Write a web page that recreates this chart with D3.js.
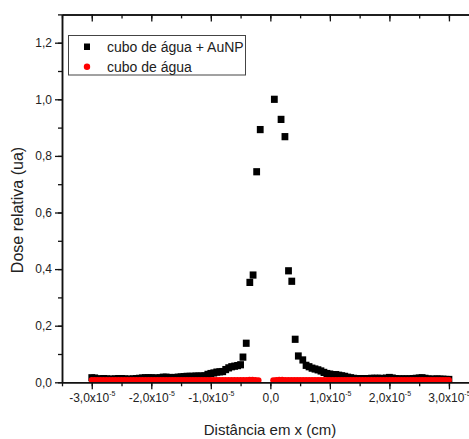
<!DOCTYPE html>
<html>
<head>
<meta charset="utf-8">
<script src="https://cdn.jsdelivr.net/npm/d3@7"></script>
<style>
  body { margin: 0; background: #fff; }
  text { font-family: "Liberation Sans", Arial, sans-serif; fill: #222; }
</style>
</head>
<body>
<div id="chart"></div>
<script>
// x in units of 1e-5 cm, y = relative dose
const seriesNames = ["cubo de água + AuNP", "cubo de água"];

const auX = [-3.00, -2.95, -2.90, -2.85, -2.80, -2.75, -2.70, -2.65, -2.60, -2.55, -2.50, -2.45, -2.40, -2.35, -2.30, -2.25,
  -2.20, -2.15, -2.10, -2.05, -2.00, -1.95, -1.90, -1.85, -1.80, -1.75, -1.70, -1.65, -1.60, -1.55, -1.50, -1.45,
  -1.40, -1.35, -1.30, -1.25, -1.20, -1.15, -1.10, -1.05, -1.00, -0.95, -0.90, -0.85, -0.80, -0.75, -0.70, -0.65,
  -0.60, -0.55, -0.50,
  -0.46, -0.405, -0.345, -0.29, -0.23, -0.17, 0.067, 0.18, 0.245, 0.305, 0.36, 0.417, 0.47, 0.545,
  0.60, 0.65, 0.70, 0.75, 0.80, 0.85, 0.90, 0.95, 1.00, 1.05, 1.10, 1.15, 1.20, 1.25, 1.30, 1.35,
  1.40, 1.45, 1.50, 1.55, 1.60, 1.65, 1.70, 1.75, 1.80, 1.85, 1.90, 1.95, 2.00, 2.05, 2.10, 2.15,
  2.20, 2.25, 2.30, 2.35, 2.40, 2.45, 2.50, 2.55, 2.60, 2.65, 2.70, 2.75, 2.80, 2.85, 2.90, 2.95, 3.00];
const auY = [0.016, 0.015, 0.012, 0.012, 0.013, 0.012, 0.011, 0.011, 0.012, 0.013, 0.013, 0.012, 0.011, 0.011, 0.012, 0.013,
  0.014, 0.015, 0.016, 0.016, 0.016, 0.015, 0.015, 0.016, 0.018, 0.018, 0.017, 0.016, 0.017, 0.018, 0.019, 0.020,
  0.021, 0.021, 0.021, 0.022, 0.022, 0.022, 0.023, 0.028, 0.031, 0.033, 0.036, 0.037, 0.038, 0.045, 0.051, 0.055,
  0.057, 0.059, 0.062,
  0.089, 0.138, 0.353, 0.379, 0.744, 0.893, 1.0, 0.929, 0.868, 0.394, 0.357, 0.152, 0.093, 0.079,
  0.060, 0.055, 0.050, 0.047, 0.044, 0.040, 0.035, 0.031, 0.029, 0.027, 0.027, 0.025, 0.023, 0.021, 0.018, 0.016,
  0.014, 0.013, 0.013, 0.013, 0.013, 0.013, 0.014, 0.014, 0.014, 0.014, 0.013, 0.015, 0.017, 0.015, 0.013, 0.012,
  0.012, 0.012, 0.012, 0.012, 0.013, 0.014, 0.015, 0.016, 0.014, 0.012, 0.011, 0.011, 0.012, 0.011, 0.011, 0.010, 0.010];

const waterX = [-3.00, -2.95, -2.90, -2.85, -2.80, -2.75, -2.70, -2.65, -2.60, -2.55, -2.50, -2.45, -2.40, -2.35, -2.30, -2.25,
  -2.20, -2.15, -2.10, -2.05, -2.00, -1.95, -1.90, -1.85, -1.80, -1.75, -1.70, -1.65, -1.60, -1.55, -1.50, -1.45,
  -1.40, -1.35, -1.30, -1.25, -1.20, -1.15, -1.10, -1.05, -1.00, -0.95, -0.90, -0.85, -0.80, -0.75, -0.70, -0.65,
  -0.60, -0.55, -0.50, -0.45, -0.40, -0.35, -0.30, -0.25, -0.20,
  0.05, 0.10, 0.15, 0.20, 0.25, 0.30, 0.35, 0.40, 0.45, 0.50, 0.55, 0.60, 0.65, 0.70, 0.75, 0.80,
  0.85, 0.90, 0.95, 1.00, 1.05, 1.10, 1.15, 1.20, 1.25, 1.30, 1.35, 1.40, 1.45, 1.50, 1.55, 1.60,
  1.65, 1.70, 1.75, 1.80, 1.85, 1.90, 1.95, 2.00, 2.05, 2.10, 2.15, 2.20, 2.25, 2.30, 2.35, 2.40,
  2.45, 2.50, 2.55, 2.60, 2.65, 2.70, 2.75, 2.80, 2.85, 2.90, 2.95, 3.00];
const waterY = [0.008, 0.008, 0.008, 0.008, 0.008, 0.008, 0.008, 0.008, 0.008, 0.008, 0.008, 0.008, 0.008, 0.008, 0.008, 0.008,
  0.008, 0.008, 0.008, 0.008, 0.008, 0.008, 0.008, 0.008, 0.008, 0.008, 0.008, 0.008, 0.008, 0.008, 0.008, 0.008,
  0.008, 0.008, 0.008, 0.008, 0.008, 0.008, 0.008, 0.008, 0.008, 0.008, 0.008, 0.008, 0.008, 0.008, 0.008, 0.008,
  0.008, 0.008, 0.008, 0.008, 0.008, 0.009, 0.009, 0.008, 0.007,
  0.007, 0.008, 0.009, 0.009, 0.008, 0.008, 0.008, 0.008, 0.008, 0.008, 0.008, 0.008, 0.008, 0.008, 0.008, 0.008,
  0.008, 0.008, 0.008, 0.008, 0.008, 0.008, 0.008, 0.008, 0.008, 0.008, 0.008, 0.008, 0.008, 0.008, 0.008, 0.008,
  0.008, 0.008, 0.008, 0.008, 0.008, 0.008, 0.008, 0.008, 0.008, 0.008, 0.008, 0.008, 0.008, 0.008, 0.008, 0.008,
  0.008, 0.008, 0.008, 0.008, 0.008, 0.008, 0.008, 0.008, 0.008, 0.008, 0.008, 0.008];

const xTicks = [-3, -2, -1, 0, 1, 2, 3];
const yTicks = [0, 0.2, 0.4, 0.6, 0.8, 1.0, 1.2];

const width = 469;
const height = 439;
const plot = {left: 62, right: 478.7, top: 14.4, bottom: 382.3};

const svg = d3.select("#chart").append("svg")
  .attr("width", width)
  .attr("height", height);

const x = d3.scaleLinear().domain([-3.5, 3.5]).range([plot.left, plot.right]);
const y = d3.scaleLinear().domain([0, 1.3]).range([plot.bottom, plot.top]);

svg.append("clipPath").attr("id", "clip")
  .append("rect")
  .attr("x", plot.left).attr("y", plot.top)
  .attr("width", plot.right - plot.left).attr("height", plot.bottom - plot.top);

const pts = svg.append("g").attr("clip-path", "url(#clip)");

const auData = auX.map((d, i) => ({x: d, y: auY[i]}));
const waterData = waterX.map((d, i) => ({x: d, y: waterY[i]}));

pts.selectAll("rect.au")
  .data(auData)
  .enter()
  .append("rect")
  .attr("class", "au")
  .attr("x", d => x(d.x) - 3.4)
  .attr("y", d => y(d.y) - 3.6)
  .attr("width", 6.8)
  .attr("height", 7.2)
  .attr("fill", "#000");

pts.selectAll("circle.water")
  .data(waterData)
  .enter()
  .append("circle")
  .attr("class", "water")
  .attr("cx", d => x(d.x))
  .attr("cy", d => y(d.y))
  .attr("r", 3.1)
  .attr("fill", "#f00");

// axes
function styleAxis(g) {
  g.select(".domain").attr("stroke", "#111").attr("stroke-width", 1.5);
  g.selectAll(".tick line").attr("stroke", "#111").attr("stroke-width", 1.3);
  g.selectAll("text").attr("font-size", 12).attr("fill", "#222")
    .attr("font-family", "'Liberation Sans', Arial, sans-serif");
}

const fmt = d => d3.format(".1f")(d).replace("\u2212", "-").replace(".", ",");

const xMinor = d3.range(-3.5, 3.51, 0.5);
const yMinor = d3.range(0, 1.31, 0.1);

// bottom
svg.append("g")
  .attr("transform", "translate(0," + plot.bottom + ")")
  .call(d3.axisBottom(x).tickValues(xMinor).tickSize(4).tickFormat("").tickSizeOuter(0))
  .call(styleAxis);
const xAxis = svg.append("g")
  .attr("transform", "translate(0," + plot.bottom + ")")
  .call(d3.axisBottom(x).tickValues(xTicks).tickSize(7).tickPadding(4).tickSizeOuter(0)
    .tickFormat(d => d === 0 ? "0,0" : fmt(d) + "x10"))
  .call(styleAxis);
xAxis.selectAll(".tick text").each(function(d) {
  if (d !== 0) {
    d3.select(this).append("tspan")
      .attr("dy", -6)
      .attr("font-size", 7)
      .text("-5");
  }
});

// top
svg.append("g")
  .attr("transform", "translate(0," + plot.top + ")")
  .call(d3.axisBottom(x).tickValues(xMinor).tickSize(4).tickFormat("").tickSizeOuter(0))
  .call(styleAxis);
svg.append("g")
  .attr("transform", "translate(0," + plot.top + ")")
  .call(d3.axisBottom(x).tickValues(xTicks).tickSize(7).tickFormat("").tickSizeOuter(0))
  .call(styleAxis);

// left
svg.append("g")
  .attr("transform", "translate(" + plot.left + ",0)")
  .call(d3.axisLeft(y).tickValues(yMinor).tickSize(4).tickFormat("").tickSizeOuter(0))
  .call(styleAxis);
svg.append("g")
  .attr("transform", "translate(" + plot.left + ",0)")
  .call(d3.axisLeft(y).tickValues(yTicks).tickSize(7).tickPadding(3).tickSizeOuter(0)
    .tickFormat(fmt))
  .call(styleAxis);

// right (mostly outside the window)
svg.append("g")
  .attr("transform", "translate(" + plot.right + ",0)")
  .call(d3.axisLeft(y).tickValues(yTicks).tickSize(7).tickFormat("").tickSizeOuter(0))
  .call(styleAxis);

// axis titles
svg.append("text")
  .attr("x", 270)
  .attr("y", 435)
  .attr("text-anchor", "middle")
  .attr("font-size", 15)
  .text("Distância em x (cm)");

svg.append("text")
  .attr("transform", "translate(23,210) rotate(-90)")
  .attr("text-anchor", "middle")
  .attr("font-size", 16)
  .text("Dose relativa (ua)");

// legend
const legend = svg.append("g");
legend.append("rect")
  .attr("x", 68.5).attr("y", 35.5)
  .attr("width", 177).attr("height", 39.5)
  .attr("fill", "#fff")
  .attr("stroke", "#444")
  .attr("stroke-width", 1);
legend.append("rect")
  .attr("x", 84).attr("y", 43.5)
  .attr("width", 6).attr("height", 6.5)
  .attr("fill", "#000");
legend.append("circle")
  .attr("cx", 87).attr("cy", 66.7)
  .attr("r", 3.2)
  .attr("fill", "#f00");
legend.selectAll("text.leg")
  .data(seriesNames)
  .enter()
  .append("text")
  .attr("class", "leg")
  .attr("x", 107)
  .attr("y", (d, i) => 51.5 + i * 20)
  .attr("font-size", 14)
  .text(d => d);
</script>
</body>
</html>
